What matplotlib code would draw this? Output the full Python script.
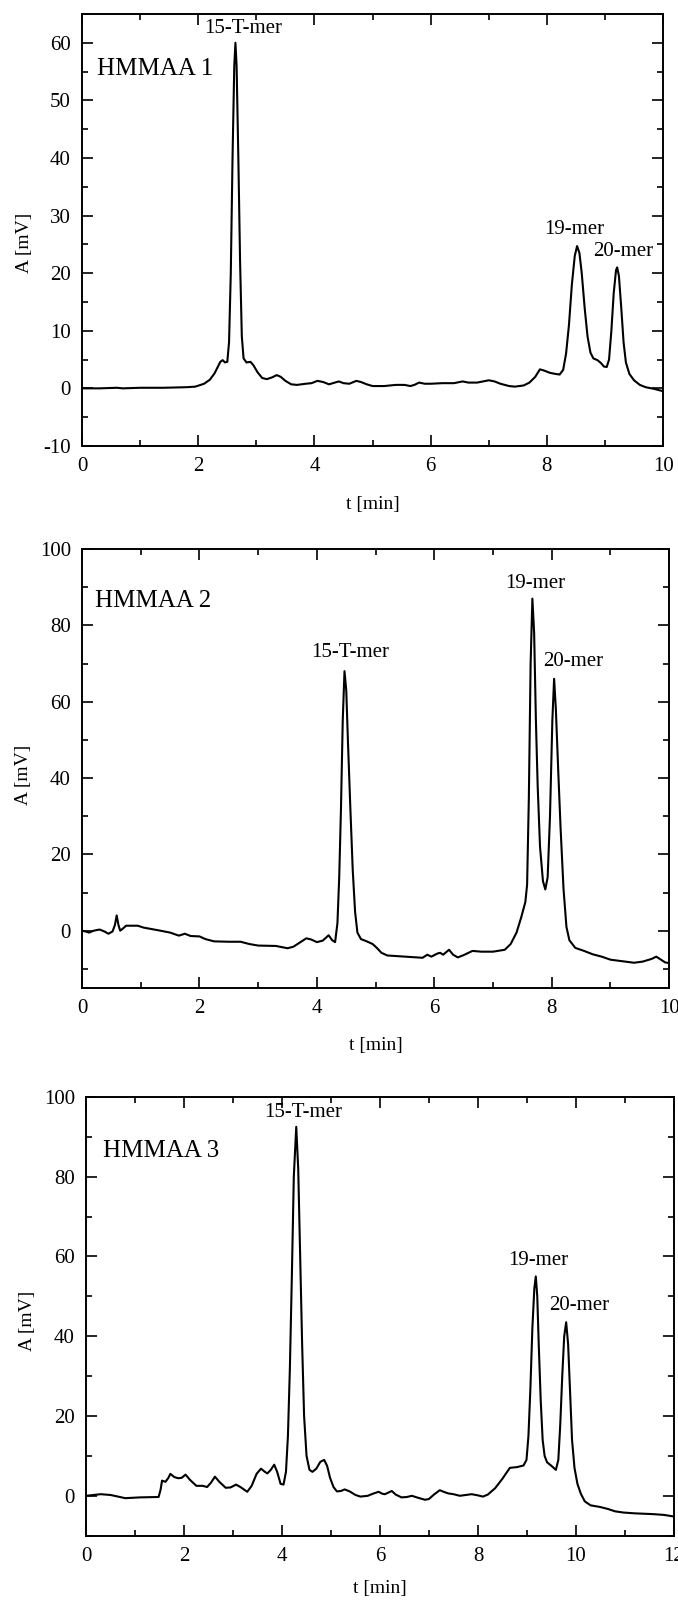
import numpy as np
import matplotlib
matplotlib.use('Agg')
import matplotlib.pyplot as plt
from matplotlib.ticker import MultipleLocator

plt.rcParams['font.family'] = ['Liberation Serif', 'DejaVu Serif']
plt.rcParams['axes.unicode_minus'] = False

# HMMAA 1 trace
t1 = [0, 0.3, 0.6, 0.7, 1.0, 1.4, 1.8, 1.95, 2.1, 2.2, 2.28, 2.34, 2.38, 2.42, 2.46, 2.5,
      2.53, 2.56, 2.59, 2.62, 2.64, 2.66, 2.69, 2.72, 2.75, 2.78, 2.83, 2.9, 2.95, 3.02,
      3.1, 3.18, 3.27, 3.35, 3.42, 3.5, 3.6, 3.7, 3.85, 3.95, 4.05, 4.15, 4.25, 4.35, 4.42,
      4.5, 4.6, 4.72, 4.8, 4.9, 5.0, 5.2, 5.4, 5.55, 5.65, 5.72, 5.8, 5.9, 6.0, 6.2, 6.4,
      6.55, 6.65, 6.8, 6.9, 7.0, 7.1, 7.2, 7.35, 7.45, 7.6, 7.7, 7.8, 7.88, 7.95, 8.05, 8.15,
      8.22, 8.28, 8.33, 8.38, 8.43, 8.48, 8.52, 8.56, 8.6, 8.65, 8.7, 8.75, 8.8, 8.87, 8.93,
      8.98, 9.03, 9.07, 9.11, 9.15, 9.19, 9.21, 9.24, 9.28, 9.32, 9.36, 9.42, 9.5, 9.6, 9.7,
      9.85, 10.0]
a1 = [0.0, 0.0, 0.1, 0.0, 0.1, 0.1, 0.2, 0.3, 0.8, 1.5, 2.6, 3.8, 4.6, 4.9, 4.5, 4.6,
      8, 20, 40, 56, 60, 56, 40, 22, 9, 5.2, 4.5, 4.6, 4.0, 2.8,
      1.8, 1.6, 1.9, 2.3, 2.0, 1.3, 0.7, 0.6, 0.8, 0.9, 1.3, 1.1, 0.7, 1.0, 1.2,
      0.9, 0.8, 1.3, 1.1, 0.7, 0.4, 0.4, 0.6, 0.6, 0.4, 0.6, 1.0, 0.8, 0.8, 0.9, 0.9,
      1.2, 1.0, 1.0, 1.2, 1.4, 1.2, 0.8, 0.4, 0.3, 0.5, 1.0, 2.0, 3.3, 3.1, 2.7, 2.5,
      2.4, 3.2, 6, 11, 18, 23, 24.7, 23.5, 20, 14, 9, 6.2, 5.2, 4.9, 4.4,
      3.8, 3.7, 5, 10, 16.5, 20.5, 21, 19.5, 14, 8, 4.5, 2.5, 1.4, 0.6, 0.2,
      -0.1, -0.5]

# HMMAA 2
t2 = [0, 0.08, 0.12, 0.2, 0.3, 0.38, 0.45, 0.52, 0.56, 0.59, 0.62, 0.65, 0.7, 0.75, 0.95,
      1.05, 1.3, 1.5, 1.65, 1.75, 1.85, 2.0, 2.1, 2.25, 2.5, 2.7, 2.85, 3.0, 3.3, 3.5, 3.6,
      3.7, 3.82, 3.9, 4.0, 4.1, 4.2, 4.26, 4.31, 4.35, 4.38, 4.41, 4.44, 4.47, 4.5, 4.53,
      4.57, 4.61, 4.65, 4.69, 4.75, 4.85, 4.95, 5.02, 5.1, 5.2, 5.4, 5.6, 5.8, 5.88, 5.95,
      6.05, 6.1, 6.15, 6.25, 6.32, 6.4, 6.5, 6.65, 6.8, 7.0, 7.2, 7.3, 7.4, 7.48, 7.55,
      7.58, 7.61, 7.64, 7.67, 7.7, 7.73, 7.76, 7.8, 7.85, 7.89, 7.93, 7.97, 8.01, 8.04,
      8.07, 8.11, 8.15, 8.2, 8.25, 8.3, 8.4, 8.55, 8.7, 8.85, 9.0, 9.2, 9.4, 9.55, 9.7,
      9.78, 9.85, 9.93, 10.0]
a2 = [0.0, -0.3, -0.5, 0.0, 0.3, -0.2, -0.8, -0.2, 1.5, 4.0, 1.5, 0.0, 0.6, 1.3, 1.3,
      0.8, 0.1, -0.5, -1.3, -0.8, -1.4, -1.5, -2.2, -2.8, -2.9, -2.9, -3.5, -3.9, -4.0, -4.6, -4.2,
      -3.2, -2.0, -2.3, -3.0, -2.6, -1.2, -2.5, -3.0, 2, 14, 32, 55, 68, 63, 49,
      32, 16, 5, -0.5, -2.2, -2.8, -3.5, -4.5, -5.8, -6.5, -6.7, -6.9, -7.1, -6.3, -6.8,
      -6.0, -5.8, -6.3, -5.0, -6.3, -7.0, -6.4, -5.3, -5.5, -5.5, -5.0, -3.5, -0.5, 3.5, 7.5,
      12, 35, 70, 87, 78, 55, 38, 22, 13, 10.8, 14, 30, 55, 66,
      58, 42, 27, 11, 1, -2.5, -4.5, -5.3, -6.2, -6.8, -7.6, -8.0, -8.4, -8.1, -7.4,
      -6.8, -7.5, -8.3, -8.5]

# HMMAA 3
t3 = [0, 0.3, 0.5, 0.8, 1.1, 1.48, 1.52, 1.55, 1.62, 1.68, 1.72, 1.8, 1.88, 1.95, 2.03,
      2.12, 2.25, 2.38, 2.47, 2.55, 2.63, 2.72, 2.85, 2.95, 3.06, 3.15, 3.29, 3.38, 3.48,
      3.57, 3.65, 3.7, 3.77, 3.84, 3.9, 3.97, 4.03, 4.08, 4.12, 4.16, 4.2, 4.24, 4.29, 4.33,
      4.37, 4.41, 4.45, 4.5, 4.56, 4.62, 4.7, 4.78, 4.86, 4.92, 4.98, 5.05, 5.12, 5.2, 5.28,
      5.38, 5.5, 5.6, 5.75, 5.85, 5.97, 6.05, 6.1, 6.24, 6.32, 6.44, 6.55, 6.65, 6.75, 6.92,
      7.0, 7.1, 7.22, 7.3, 7.39, 7.5, 7.63, 7.75, 7.87, 8.0, 8.1, 8.2, 8.35, 8.5, 8.65, 8.8,
      8.93, 8.99, 9.03, 9.07, 9.11, 9.15, 9.18, 9.21, 9.24, 9.28, 9.32, 9.36, 9.41, 9.5,
      9.59, 9.64, 9.68, 9.72, 9.76, 9.8, 9.84, 9.88, 9.92, 9.97, 10.03, 10.1, 10.18, 10.3,
      10.49, 10.65, 10.8, 10.97, 11.2, 11.58, 11.8, 12.0]
a3 = [0.0, 0.4, 0.2, -0.6, -0.4, -0.3, 1.5, 3.8, 3.5, 4.5, 5.5, 4.7, 4.4, 4.5, 5.3,
      4.0, 2.5, 2.5, 2.2, 3.3, 4.8, 3.5, 2.0, 2.1, 2.8, 2.2, 1.0, 2.5, 5.5,
      6.8, 6.0, 5.6, 6.5, 7.8, 6.0, 3.0, 2.8, 6, 15, 32, 55, 80, 92.5, 82,
      60, 38, 20, 10, 6.5, 6.0, 6.8, 8.5, 9.0, 7.5, 4.5, 2.2, 1.1, 1.2, 1.6,
      1.1, 0.2, -0.2, 0.0, 0.5, 1.0, 0.5, 0.4, 1.2, 0.3, -0.4, -0.3, 0.0, -0.4, -1.0,
      -0.8, 0.3, 1.4, 1.0, 0.6, 0.4, 0.0, 0.2, 0.4, 0.1, -0.2, 0.3, 1.9, 4.3, 7.0, 7.2,
      7.6, 9, 15, 27, 42, 52, 55, 50, 38, 24, 14, 10, 8.4, 7.5,
      6.5, 9, 18, 30, 40, 43.5, 38, 26, 14, 7, 3, 0.5, -1.4, -2.4,
      -2.8, -3.3, -3.9, -4.2, -4.4, -4.6, -4.8, -5.2]

names = ['HMMAA 1', 'HMMAA 2', 'HMMAA 3']
peak_labels = ['15-T-mer', '19-mer', '20-mer']
# label anchor (t, A) for each peak label, per panel
label_pos = [[(2.78, 62.5), (8.47, 27.5), (9.31, 23.7)],
             [(4.57, 72.8), (7.72, 91.0), (8.37, 70.5)],
             [(4.44, 96.1), (9.23, 58.9), (10.07, 47.7)]]
name_pos = [(0.25, 55.5), (0.22, 86.5), (0.34, 86.4)]
xlims = [(0, 10), (0, 10), (0, 12)]
ylims = [(-10, 65), (-15, 100), (-10, 100)]
ymajor = [10, 20, 20]
yminor = [5, 10, 10]
ylab_y = [0.47, 0.485, 0.49]
xlab_pad = [14, 14, 10]

fig = plt.figure(figsize=(6.78, 16.03), dpi=100)
rects = [[0.121, 0.7218, 0.857, 0.2695],
         [0.121, 0.3837, 0.866, 0.2738],
         [0.127, 0.0420, 0.867, 0.2737]]

traces = [(t1, a1), (t2, a2), (t3, a3)]
for i in range(3):
    ax = fig.add_axes(rects[i])
    t, a = traces[i]
    ax.plot(t, a, color='black', lw=1.5)
    ax.set_xlim(*xlims[i])
    ax.set_ylim(*ylims[i])
    ax.xaxis.set_major_locator(MultipleLocator(2))
    ax.xaxis.set_minor_locator(MultipleLocator(1))
    ax.yaxis.set_major_locator(MultipleLocator(ymajor[i]))
    ax.yaxis.set_minor_locator(MultipleLocator(yminor[i]))
    ax.tick_params(which='both', direction='in', top=True, right=True, labelsize=15, width=1.2)
    ax.tick_params(which='major', length=8, pad=8)
    ax.tick_params(which='minor', length=4)
    for s in ax.spines.values():
        s.set_linewidth(1.4)
    ax.set_xlabel('t [min]', fontsize=14, labelpad=xlab_pad[i])
    ax.set_ylabel('A [mV]', fontsize=14)
    ax.yaxis.set_label_coords(-0.085, ylab_y[i])
    ax.text(name_pos[i][0], name_pos[i][1], names[i], fontsize=18, ha='left', va='center')
    for lab, (x, y) in zip(peak_labels, label_pos[i]):
        ax.text(x, y, lab, fontsize=15, ha='center', va='center')

fig.savefig('out.png', dpi=100)
